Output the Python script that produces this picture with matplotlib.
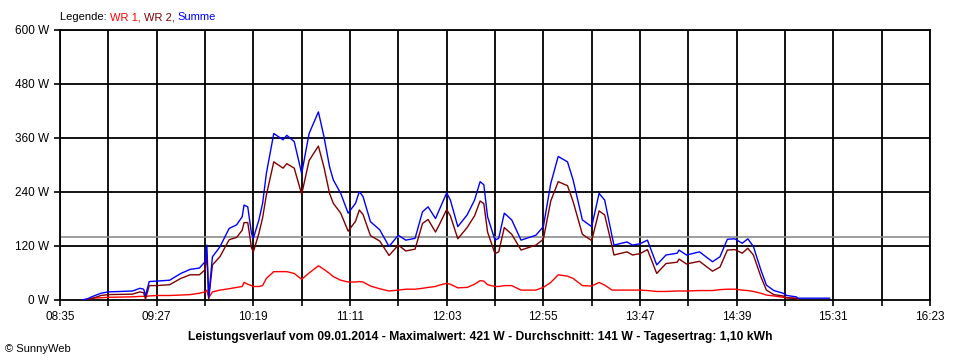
import numpy as np
import pandas as pd
import matplotlib
matplotlib.use('Agg')
import matplotlib.pyplot as plt

zeit = ['08:47', '08:50', '08:52', '08:57', '09:01', '09:14', '09:18', '09:20', '09:21', '09:23',
        '09:27', '09:34', '09:40', '09:45', '09:50', '09:53', '09:54', '09:55', '09:57', '10:01',
        '10:06', '10:10', '10:13', '10:14', '10:16', '10:18', '10:19', '10:22', '10:24', '10:26',
        '10:30', '10:35', '10:37', '10:41', '10:45', '10:49', '10:54', '10:57', '11:00', '11:02',
        '11:06', '11:10', '11:14', '11:16', '11:18', '11:22', '11:27', '11:32', '11:37', '11:41',
        '11:46', '11:50', '11:53', '11:57', '11:59', '12:03', '12:05', '12:09', '12:14', '12:18',
        '12:21', '12:23', '12:25', '12:29', '12:31', '12:34', '12:38', '12:43', '12:51', '12:55',
        '12:59', '13:03', '13:08', '13:11', '13:16', '13:21', '13:25', '13:28', '13:32', '13:33',
        '13:40', '13:43', '13:47', '13:51', '13:56', '14:01', '14:07', '14:08', '14:12', '14:19',
        '14:26', '14:30', '14:34', '14:38', '14:42', '14:45', '14:48', '14:52', '14:55', '14:59',
        '15:04', '15:06', '15:11', '15:12', '15:20', '15:29']

wr1 = [0, 2, 4, 5, 6, 7, 8, 8, 8, 9,
       10, 10, 11, 12, 15, 18, 22, 5, 18, 22,
       25, 28, 30, 39, 35, 32, 30, 30, 32, 48,
       63, 63, 63, 59, 46, 60, 76, 68, 59, 52,
       44, 40, 40, 41, 40, 31, 25, 20, 22, 24,
       24, 26, 28, 30, 33, 37, 35, 27, 28, 35,
       43, 42, 34, 30, 30, 32, 32, 22, 22, 28,
       39, 56, 53, 48, 32, 31, 39, 33, 22, 22,
       22, 22, 22, 21, 19, 19, 20, 20, 20, 21,
       21, 23, 24, 24, 22, 21, 19, 15, 11, 9,
       6, 5, 4, 1, np.nan, np.nan]

wr2 = [0, 1, 3, 10, 12, 13, 18, 16, 2, 32,
       32, 34, 48, 56, 56, 67, 100, 2, 78, 96,
       134, 139, 155, 172, 172, 116, 107, 148, 183, 233,
       307, 293, 303, 293, 235, 310, 342, 295, 237, 215,
       193, 153, 175, 200, 190, 143, 131, 99, 122, 109,
       113, 170, 179, 151, 167, 201, 187, 136, 161, 187,
       220, 214, 151, 103, 107, 161, 146, 111, 122, 135,
       220, 263, 254, 219, 146, 132, 198, 189, 119, 100,
       107, 100, 103, 112, 59, 81, 84, 91, 80, 86,
       64, 73, 111, 112, 104, 115, 100, 52, 22, 12,
       9, 5, 3, 3, np.nan, np.nan]

summe = [0, 3, 7, 15, 18, 20, 26, 24, 10, 41,
         42, 44, 59, 68, 71, 85, 122, 7, 96, 118,
         159, 167, 185, 211, 207, 148, 137, 178, 215, 281,
         370, 356, 366, 352, 281, 370, 418, 363, 296, 267,
         237, 193, 215, 241, 230, 174, 156, 119, 144, 133,
         137, 196, 207, 181, 200, 238, 222, 163, 189, 222,
         263, 256, 185, 133, 137, 193, 178, 133, 144, 163,
         259, 319, 307, 267, 178, 163, 237, 222, 141, 122,
         129, 122, 125, 133, 78, 100, 104, 111, 100, 107,
         85, 96, 135, 136, 126, 136, 119, 67, 33, 21,
         15, 10, 7, 4, 4, 4]

durchschnitt = 141
x_start, x_ende = '08:35', '16:23'

def minuten(s):
    h, m = s.split(':')
    return int(h) * 60 + int(m)

t = np.array([minuten(z) for z in zeit])
t0, t1 = minuten(x_start), minuten(x_ende)

plt.rcParams['font.family'] = ['Liberation Sans', 'DejaVu Sans']

fig = plt.figure(figsize=(9.6, 3.6), dpi=100)
ax = fig.add_axes([60/960, 60/360, 870/960, 270/360])

# Gitter
for gx in range(t0, t1 + 1, 26):
    ax.axvline(gx, color='black', lw=1.3, zorder=1)
for gy in range(120, 601, 120):
    ax.axhline(gy, color='black', lw=1.3, zorder=1)
ax.axhline(durchschnitt, color='#8c8c8c', lw=1.2, zorder=1)

ax.plot(t, wr1, color='#ff0000', lw=1.0, zorder=3)
ax.plot(t, wr2, color='#800000', lw=1.0, zorder=3)
ax.plot(t, summe, color='#0000ff', lw=1.0, zorder=4)

ax.set_xlim(t0, t1)
ax.set_ylim(0, 600)

ax.set_xticks(range(t0, t1 + 1, 26))
ax.set_xticklabels([('%02d:%02d' % divmod(v, 60)) if (v - t0) % 52 == 0 else ''
                    for v in range(t0, t1 + 1, 26)], fontsize=8.5)
ax.set_yticks(range(0, 601, 120))
ax.set_yticklabels(['%d W' % v for v in range(0, 601, 120)], fontsize=8.5)
ax.tick_params(direction='out', length=4, width=1.2, pad=4)
for s in ax.spines.values():
    s.set_linewidth(1.3)

# Legende oben
fig.canvas.draw()
r = fig.canvas.get_renderer()
x = 60
teile = [('Legende: ', 'black'), ('WR 1, ', '#ff0000'), ('WR 2, ', '#800000'), ('Summe', '#0000ff')]
for txt, col in teile:
    tx = fig.text(x / 960, 1 - 17 / 360, txt, color=col, fontsize=8, va='center', ha='left')
    x += tx.get_window_extent(r).width

fig.text(480 / 960, 1 - 337 / 360,
         'Leistungsverlauf vom 09.01.2014 - Maximalwert: 421 W - Durchschnitt: 141 W - Tagesertrag: 1,10 kWh',
         fontsize=8.7, fontweight='bold', ha='center', va='center')
fig.text(5 / 960, 1 - 349 / 360, '© SunnyWeb', fontsize=8, ha='left', va='center')

fig.savefig('out.png', dpi=100)
